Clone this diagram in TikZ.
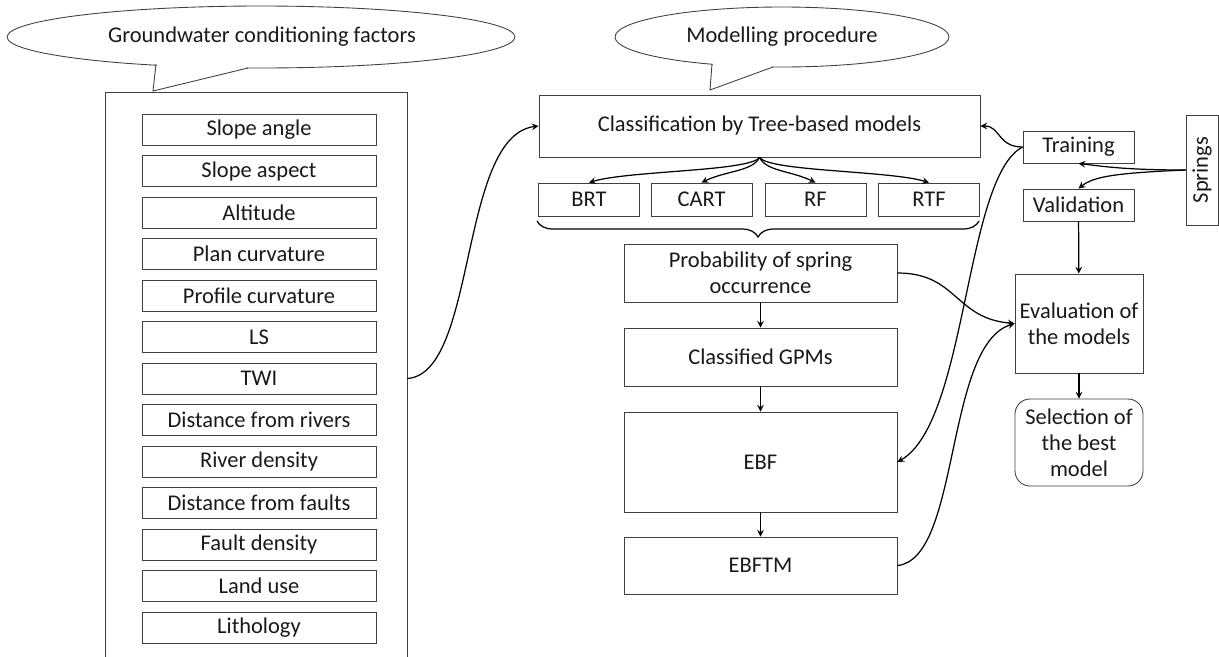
\documentclass[tikz,border=0pt]{standalone}
\usepackage{fontspec}
\setmainfont{Carlito}
\usetikzlibrary{arrows.meta, positioning, decorations.pathreplacing}
\definecolor{lineGray}{gray}{0.25}
\definecolor{textBlack}{gray}{0.1}

\begin{document}
\begin{tikzpicture}[x=0.02cm, y=-0.02cm, >=stealth,
    every node/.style={font=\fontsize{12.8}{14.8}\selectfont, text=textBlack},
    box/.style={draw=lineGray, line width=0.5pt, inner sep=0pt, align=center},
    factorBox/.style={box, minimum width=4.68cm, minimum height=0.62cm},
    modelBox/.style={box, minimum width=2.02cm, minimum height=0.66cm},
    procBox/.style={box, minimum width=5.46cm},
    sideBox/.style={box, minimum width=2.22cm, minimum height=0.64cm},
    flow/.style={->, line width=0.7pt}]
    \useasboundingbox (0,0) rectangle (1219,656);

    % Callouts
    \draw[lineGray, line width=0.5pt] (261,37) ellipse [x radius=5.08cm, y radius=0.62cm];
    \fill[white] (157,56) rectangle (247,72);
    \draw[lineGray, line width=0.5pt] (156,64) -- (153,91) -- (248,68);
    \node (gcfTitle) at (262,37) {Groundwater conditioning factors};

    \draw[lineGray, line width=0.5pt] (782,37) ellipse [x radius=3.34cm, y radius=0.6cm];
    \fill[white] (713,56) rectangle (772,70);
    \draw[lineGray, line width=0.5pt] (712,64) -- (710,90) -- (773,67);
    \node (mpTitle) at (782,37) {Modelling procedure};

    % Conditioning factors
    \node[box, minimum width=6.04cm, minimum height=11.6cm] (factors) at (256,382) {};
    \foreach \name [count=\i] in {Slope angle, Slope aspect, Altitude, Plan curvature,
        Profile curvature, LS, TWI, Distance from rivers, River density,
        Distance from faults, Fault density, Land use, Lithology}
        \node[factorBox] (f\i) at (259,{129.5+(\i-1)*41.5}) {\name};

    % Modelling procedure
    \node[box, minimum width=8.82cm, minimum height=1.24cm] (class) at (759.5,126) {Classification by Tree-based models};
    \node[modelBox] (brt) at (589,199.5) {BRT};
    \node[modelBox] (cart) at (701.5,199.5) {CART};
    \node[modelBox] (rf) at (815.5,199.5) {RF};
    \node[modelBox] (rtf) at (929,199.5) {RTF};
    \node[procBox, minimum height=1.16cm] (prob) at (760.5,273) {Probability of spring\\occurrence};
    \node[procBox, minimum height=1.16cm] (gpm) at (760.5,357) {Classified GPMs};
    \node[procBox, minimum height=2cm] (ebf) at (760.5,462) {EBF};
    \node[procBox, minimum height=1.14cm] (ebftm) at (760.5,565.5) {EBFTM};

    % Springs and evaluation
    \node[sideBox] (training) at (1078.5,147) {Training};
    \node[sideBox] (validation) at (1078.5,205) {Validation};
    \node[box, rotate=90, minimum width=2.2cm, minimum height=0.64cm] (springs) at (1202,170) {Springs};
    \node[box, minimum width=2.56cm, minimum height=1.98cm] (eval) at (1079,323.5) {Evaluation of\\the models};
    \node[box, rounded corners=0.3cm, minimum width=2.56cm, minimum height=1.74cm] (select) at (1079,442.5) {Selection of\\the best\\model};

    % Connectors
    \draw[flow] (factors.east |- f7) .. controls +(70,-5) and +(-80,10) .. (class.west);
    \foreach \m/\a/\b in {brt/-10/40, cart/-7/25, rf/7/-25, rtf/10/-40}
        \draw[flow] (class.south) .. controls +(\a,14) and +(\b,-12) .. (\m.north);
    \draw[decorate, decoration={brace, mirror, amplitude=0.32cm}, line width=0.7pt] (537,221) -- (979,221);
    \draw[flow] (prob) -- (gpm);
    \draw[flow] (gpm) -- (ebf);
    \draw[flow] (ebf) -- (ebftm);
    \draw[flow] (springs.north) .. controls +(-60,0) and +(25,3) .. (training.south);
    \draw[flow] (springs.north) .. controls +(-70,3) and +(15,-12) .. (validation.north);
    \draw[flow] (training.west) .. controls +(-25,0) and +(20,0) .. (class.east);
    \draw[flow] (training.west) .. controls +(-58,30) and +(70,-40) .. (ebf.east);
    \draw[flow] (validation) -- (eval);
    \draw[flow] (prob.east) .. controls +(60,0) and +(-60,-5) .. (eval.west);
    \draw[flow] (ebftm.east) .. controls +(63,-6) and +(-70,22) .. (eval.west);
    \draw[flow] (eval) -- (select);
\end{tikzpicture}
\end{document}
